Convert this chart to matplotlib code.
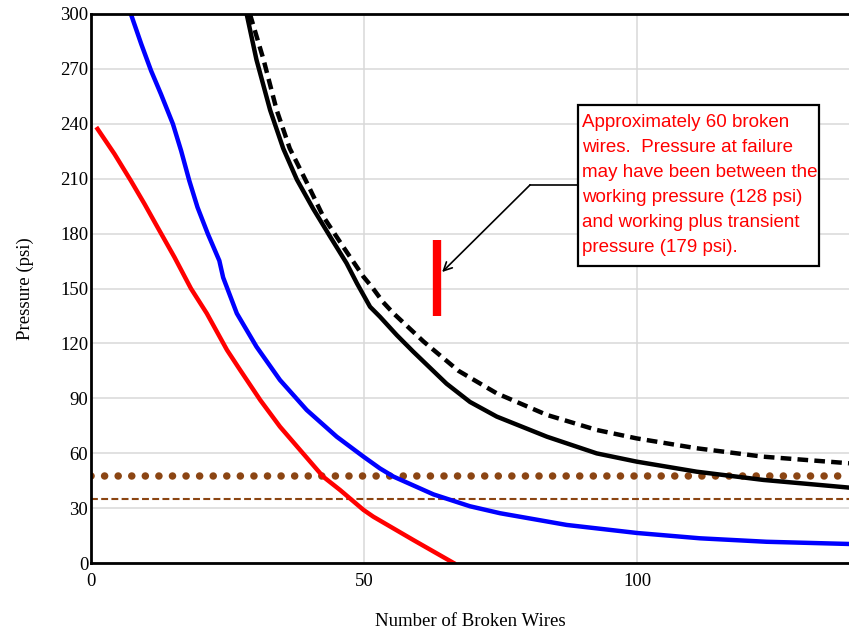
import matplotlib.pyplot as plt
from matplotlib.patches import Rectangle
import numpy as np

# curve data (x = number of broken wires, y = pressure psi)
red_x = [1.2, 4.3, 7.3, 9.8, 12.2, 15.3, 18.3, 21.2, 24.9, 27.3, 31, 34.6, 38.3,
         42.5, 45.6, 49.9, 51.7, 59, 66.4]
red_y = [237.2, 223.5, 208.9, 196.2, 183.4, 167, 150, 136.4, 116.4, 105.5, 89, 74.5, 61.7,
         47.2, 39.9, 29, 25.3, 12.6, 0]

blue_x = [7.3, 9.2, 11, 12.8, 15, 16.5, 18, 19.5, 21.4, 23.5, 24.2, 26.7, 30.3, 34.6,
          39.5, 45, 49.9, 52.9, 55.4, 62.7, 69.4, 74.9, 87.1, 100, 111.5, 123.7, 138.8]
blue_y = [300, 283.6, 269, 256.3, 239.9, 225.3, 208.9, 194.4, 179.8, 165.2, 156, 136.4,
          118.2, 100, 83.6, 69, 58.1, 51.7, 47.2, 37.5, 31, 27.2, 20.8, 16.4, 13.5, 11.6, 10.4]

solid_x = [28.5, 30.3, 32.8, 35.2, 37.7, 40.7, 43.8, 46.8, 48.7, 51.1, 52.9, 56, 59,
           65.1, 69.4, 74.3, 83.5, 92.6, 99.9, 110.9, 123.1, 138.8]
solid_y = [300, 275, 247.5, 226.5, 209.5, 193.5, 178.3, 163.8, 152.8, 140, 134.6, 124.5,
           115.5, 98, 88, 80, 69, 59.9, 55.4, 49.9, 45.4, 41.2]

dash_x = [29.1, 31.6, 34, 36.4, 39.5, 42.5, 46.2, 49.9, 51.4, 53.5, 55.4, 60.9, 67.3,
          74.3, 83.5, 92.6, 99.9, 110.9, 123.1, 138.8]
dash_y = [300, 275, 247.5, 226.5, 208, 189.5, 172.7, 156.4, 151, 142.5, 136.4, 121, 105,
          92.7, 80.9, 72.7, 68.1, 62.7, 58.1, 54.5]

brown_dotted = 47.5
brown_dashed = 35

failure_x = 63.3
failure_low = 135
failure_high = 176.5

y_ticks = np.arange(0, 301, 30)
x_ticks = [0, 50, 100]

note = ("Approximately 60 broken\n"
        "wires.  Pressure at failure\n"
        "may have been between the\n"
        "working pressure (128 psi)\n"
        "and working plus transient\n"
        "pressure (179 psi).")

fig = plt.figure(figsize=(8.49, 6.3), dpi=100)
ax = fig.add_axes([91 / 849, 67 / 630, 1 - 91 / 849, (563 - 14) / 630])

# horizontal reference lines
ax.axhline(brown_dotted, color='#8B4513', lw=5.4, linestyle=(0, (0.01, 1.8)),
           dash_capstyle='round')
ax.axhline(brown_dashed, color='#8B4513', lw=1.5, linestyle=(0, (3.3, 1.6)))

ax.plot(red_x, red_y, color='red', lw=3.2, solid_joinstyle='round')
ax.plot(blue_x, blue_y, color='blue', lw=3.2, solid_joinstyle='round')
ax.plot(solid_x, solid_y, color='black', lw=3.2, solid_joinstyle='round')
ax.plot(dash_x, dash_y, color='black', lw=3.2, linestyle=(0, (2.4, 1.4)))

# failure range bar
ax.plot([failure_x, failure_x], [failure_low, failure_high], color='red', lw=6,
        solid_capstyle='butt')

# note box with elbow arrow
ax.add_patch(Rectangle((89.2, 162.3), 133.3 - 89.2, 250.3 - 162.3, fc='white',
                       ec='black', lw=1.6, zorder=4))
ax.plot([89.2, 80.4], [206.6, 206.6], color='black', lw=1.2)
ax.annotate('', xy=(64.3, 159), xytext=(80.4, 206.6),
            arrowprops=dict(arrowstyle='->,head_length=0.6,head_width=0.3',
                            color='black', lw=1.2, shrinkA=0, shrinkB=0))
ax.text(89.9, 245.3, note, ha='left', va='top', color='red', fontsize=13.5,
        family='Liberation Sans', linespacing=1.62, zorder=5)

ax.set_xlim(0, 138.8)
ax.set_ylim(0, 300)
ax.set_yticks(y_ticks)
ax.set_xticks(x_ticks)
ax.grid(True, color='#d9d9d9', lw=1.1)
ax.set_axisbelow(True)
ax.tick_params(length=0, labelsize=13.5)
ax.tick_params(axis='y', pad=2)
ax.tick_params(axis='x', pad=7)
for lab in ax.get_xticklabels() + ax.get_yticklabels():
    lab.set_family('Liberation Serif')

ax.spines['right'].set_visible(False)
for s in ['left', 'bottom', 'top']:
    ax.spines[s].set_linewidth(2)
    ax.spines[s].set_color('black')

ax.set_xlabel('Number of Broken Wires', family='Liberation Serif', fontsize=13.5,
              labelpad=17)
ax.set_ylabel('Pressure (psi)', family='Liberation Serif', fontsize=13.5,
              labelpad=19)

fig.savefig('out.png', dpi=100)
